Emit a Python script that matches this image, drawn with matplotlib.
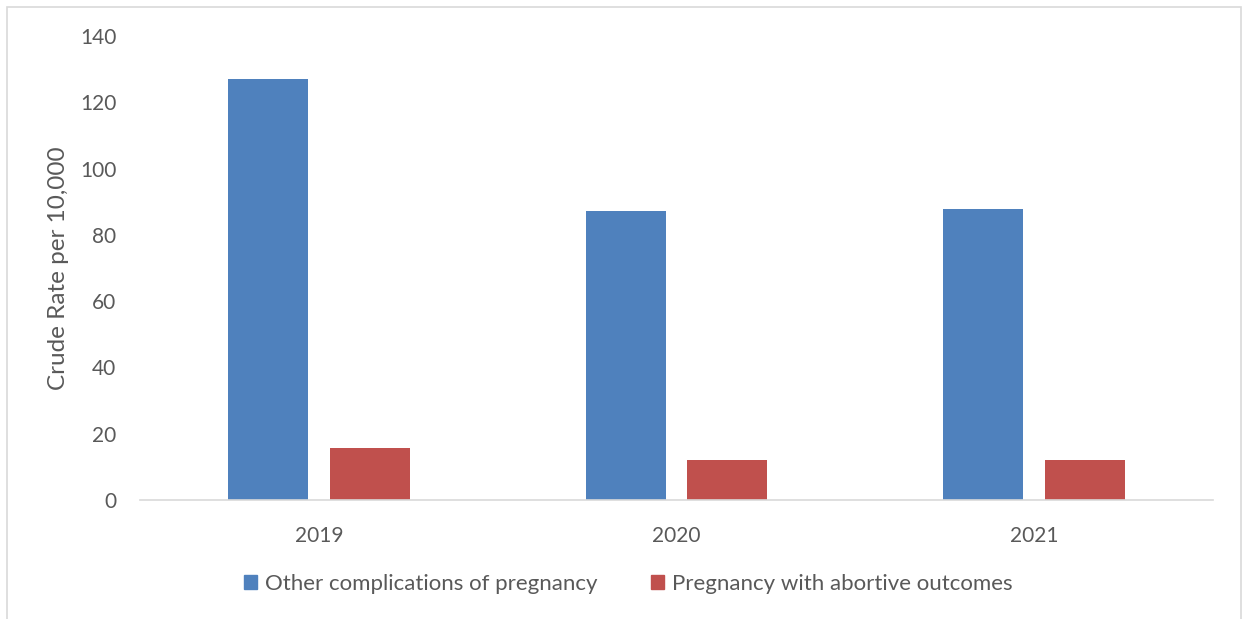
import matplotlib.pyplot as plt
import numpy as np
from matplotlib.patches import Patch, Rectangle

# values
years = ['2019', '2020', '2021']
other_complications = [127.0, 87.3, 87.9]
abortive_outcomes = [15.7, 12.0, 12.0]
series_names = ['Other complications of pregnancy', 'Pregnancy with abortive outcomes']
y_ticks = [0, 20, 40, 60, 80, 100, 120, 140]

blue = '#4F81BD'
red = '#C0504D'
text_gray = '#595959'

plt.rcParams['font.family'] = ['Lato', 'DejaVu Sans']

fig = plt.figure(figsize=(12.44, 6.19), dpi=100)
ax = fig.add_axes([0.1125, 0.1922, 0.8625, 0.7496])

x = np.arange(len(years))
width = 0.224
offset = 0.142
ax.bar(x - offset, other_complications, width, color=blue)
ax.bar(x + offset, abortive_outcomes, width, color=red)

ax.set_xlim(-0.5, 2.5)
ax.set_ylim(0, 140)
ax.set_yticks(y_ticks)
ax.set_xticks(x)
ax.set_xticklabels(years)
ax.tick_params(axis='both', length=0, labelsize=15, colors=text_gray)
ax.tick_params(axis='x', pad=19)
ax.tick_params(axis='y', pad=17)
ax.set_ylabel('Crude Rate per 10,000', fontsize=17.5, color=text_gray, labelpad=8)

for side in ['top', 'right', 'left']:
    ax.spines[side].set_visible(False)
ax.spines['bottom'].set_color('#D9D9D9')
ax.spines['bottom'].set_linewidth(1.2)

handles = [Patch(color=blue), Patch(color=red)]
fig.legend(handles, series_names, loc='center', bbox_to_anchor=(0.505, 0.0565),
           ncol=2, frameon=False, fontsize=16, labelcolor=text_gray,
           handlelength=0.6, handleheight=0.6, handletextpad=0.35, columnspacing=2.4)

# light border around the chart area
fig.patches.append(Rectangle((7 / 1244, -0.02), 1234 / 1244, 1 - 7 / 619 + 0.02,
                             transform=fig.transFigure, fill=False,
                             edgecolor='#D9D9D9', linewidth=1.2))

fig.savefig('out.png', dpi=100)
